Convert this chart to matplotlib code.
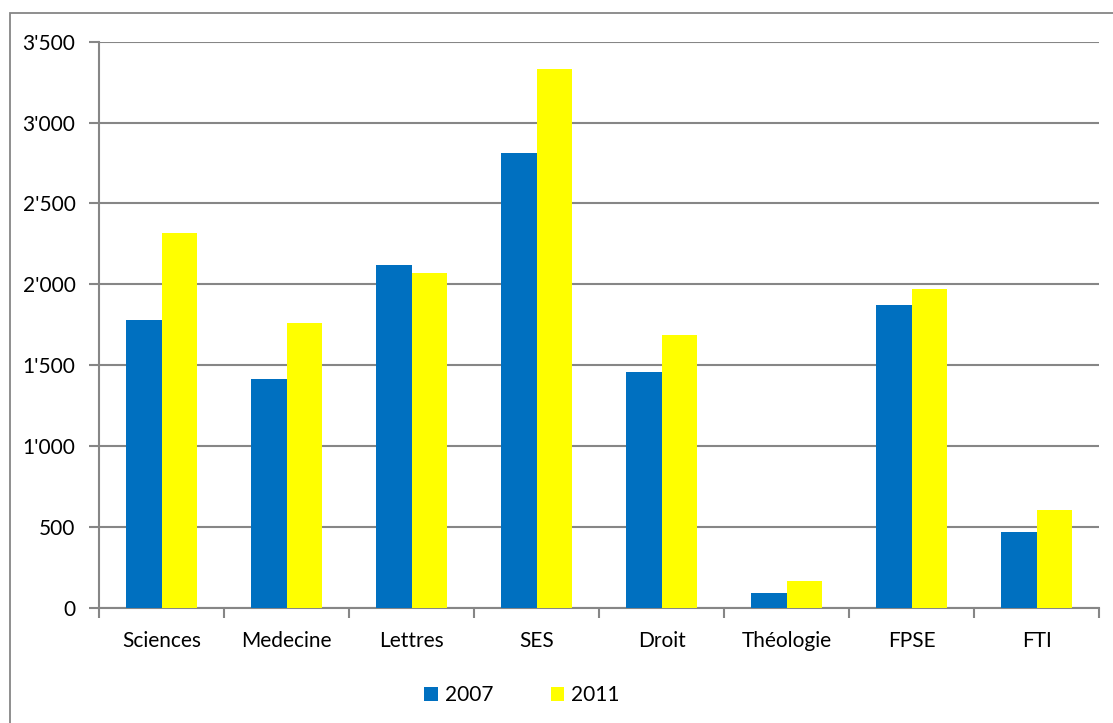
import matplotlib.pyplot as plt
import matplotlib.ticker as mticker
from matplotlib.patches import Rectangle
import numpy as np

## Data
faculties = ["Sciences", "Medecine", "Lettres", "SES", "Droit", "Théologie", "FPSE", "FTI"]
years = ["2007", "2011"]
students_2007 = [1778, 1413, 2122, 2810, 1460, 88, 1873, 470]
students_2011 = [2315, 1758, 2067, 3334, 1684, 166, 1970, 607]
COLORS = ["#0070C0", "#FFFF00"]
GRID = "#868686"
FS = 15

plt.rcParams["font.family"] = ["Lato", "DejaVu Sans"]

W, H = 1113, 723
fig = plt.figure(figsize=(W / 100, H / 100), dpi=100)
ax = fig.add_axes([99 / W, 1 - 607.7 / H, 1000 / W, (607.7 - 41.7) / H])

# outer chart frame (only left and top edges fall inside the image)
fig.patches.append(
    Rectangle((10 / W, -0.1), 1.2, 1 - 13 / H + 0.1, transform=fig.transFigure,
              fill=False, edgecolor=GRID, linewidth=1.3, zorder=0)
)

x = np.arange(len(faculties))
width = 0.285
ax.bar(x - width / 2, students_2007, width, color=COLORS[0], label=years[0], zorder=3)
ax.bar(x + width / 2, students_2011, width, color=COLORS[1], label=years[1], zorder=3)

ax.set_xlim(-0.5, len(faculties) - 0.5)
ax.set_ylim(0, 3500)
ax.yaxis.set_major_locator(mticker.MultipleLocator(500))
ax.yaxis.set_major_formatter(mticker.FuncFormatter(lambda v, _: f"{int(v):,}".replace(",", "'")))
ax.yaxis.grid(True, color=GRID, linewidth=1.5, zorder=0)

ax.set_xticks(np.arange(len(faculties) + 1) - 0.5)
ax.set_xticklabels([])
ax.set_xticks(x, minor=True)
ax.set_xticklabels(faculties, minor=True, fontsize=FS)
ax.tick_params(axis="x", which="major", direction="out", length=7, width=1.5, color=GRID)
ax.tick_params(axis="x", which="minor", length=0, pad=17)
ax.tick_params(axis="y", direction="out", length=7, width=1.5, color=GRID, labelsize=FS, pad=10)

for spine in ["top", "right"]:
    ax.spines[spine].set_visible(False)
for spine in ["left", "bottom"]:
    ax.spines[spine].set_color(GRID)
    ax.spines[spine].set_linewidth(1.5)

fig.legend(loc="center left", bbox_to_anchor=(424 / W, 1 - 695 / H), ncols=2, frameon=False,
           fontsize=FS, handlelength=0.65, handleheight=0.65, handletextpad=0.35,
           columnspacing=2.75, borderaxespad=0, borderpad=0)

fig.savefig("out.png", dpi=100)
